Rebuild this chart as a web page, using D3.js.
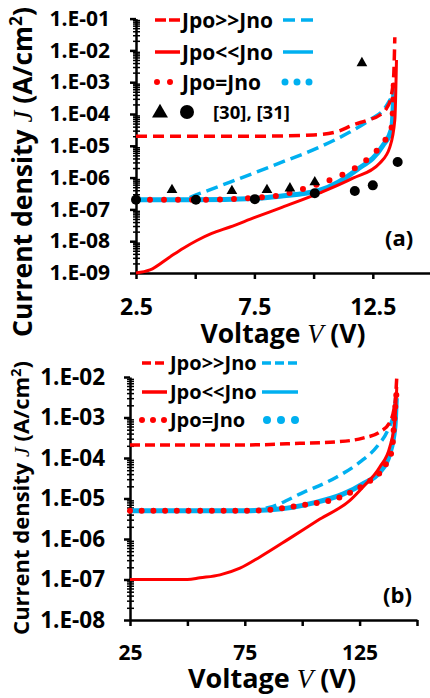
<!DOCTYPE html>
<html>
<head>
<meta charset="utf-8">
<script src="https://cdnjs.cloudflare.com/ajax/libs/d3/7.8.5/d3.min.js"></script>
<style>
  body { margin: 0; background: #fff; }
  svg { display: block; font-family: "Open Sans", Lato, sans-serif; font-weight: bold; }
  .axis path, .axis line { stroke: #000; stroke-width: 2.5; }
  .axis text { fill: #000; font-family: "Open Sans", sans-serif; font-weight: bold; }
</style>
</head>
<body>
<div id="chart"></div>
<script>
// ---- panel (a) data : voltage (V) and current density (A/cm2)
var redDashA_V  = [2.5, 5, 7.5, 10, 11, 11.66, 12.3, 12.8, 13.1, 13.25, 13.38, 13.43];
var redDashA_J  = [2e-5, 2e-5, 2e-5, 2.2e-5, 2.8e-5, 4.5e-5, 6.5e-5, 9.3e-5, 1.6e-4, 3e-4, 1.5e-3, 2.6e-2];
var blueDashA_V = [2.5, 4.36, 5.2, 6.47, 8.58, 10.26, 11.53, 12.37, 13.0, 13.25];
var blueDashA_J = [2e-7, 2e-7, 3.2e-7, 7.2e-7, 2.9e-6, 9.2e-6, 2.7e-5, 6.5e-5, 1.5e-4, 3e-4];
var redSolidA_V = [2.5, 3.09, 3.93, 4.5, 5.07, 5.7, 6.47, 7.52, 8.58, 10.26, 11.66, 12.8, 13.22, 13.43, 13.5];
var redSolidA_J = [1e-9, 1.25e-9, 3.2e-9, 6.0e-9, 1.05e-8, 1.75e-8, 2.8e-8, 5.6e-8, 1.1e-7, 3.3e-7, 9.6e-7, 2.9e-6, 9.1e-6, 6.5e-5, 5e-3];
var blueSolidA_V = [2.5, 5, 7.5, 8.58, 10.26, 11.8, 12.92, 13.3, 13.4];
var blueSolidA_J = [2e-7, 2e-7, 2.2e-7, 2.6e-7, 4.0e-7, 1.7e-6, 1.0e-5, 3.5e-5, 8e-4];
var redDotA_V   = [2.5, 5, 6.5, 7.5, 8.58, 9.55, 11.0, 11.8, 12.37, 12.92, 13.3, 13.39];
var redDotA_J   = [2e-7, 2e-7, 2.1e-7, 2.3e-7, 2.8e-7, 4.4e-7, 1.05e-6, 2.1e-6, 4.4e-6, 1.2e-5, 3.9e-5, 1.2e-3];
var ref30_V = [4.02, 6.55, 8.03, 9.0, 10.05, 12.04];
var ref30_J = [4.1e-7, 3.8e-7, 4.1e-7, 4.6e-7, 7.2e-7, 4.0e-3];
var ref31_V = [2.5, 5.03, 7.52, 10.05, 11.74, 12.5, 13.55];
var ref31_J = [2e-7, 2e-7, 2.1e-7, 3.2e-7, 3.8e-7, 5.7e-7, 3.1e-6];
var xTicksA = [2.5, 5, 7.5, 10, 12.5, 15];
var xLabelsA = [2.5, 7.5, 12.5];

// ---- panel (b) data
var redDashB_V  = [25, 75, 99, 115, 126.4, 133.8, 138.2, 140.4, 141.2];
var redDashB_J  = [2.1e-4, 2.1e-4, 2.3e-4, 2.5e-4, 3.1e-4, 4.4e-4, 7.7e-4, 2.3e-3, 1e-2];
var blueDashB_V = [25, 75, 82, 86, 100.3, 115.1, 125.1, 132.5, 137.3, 139.9, 140.8];
var blueDashB_J = [5e-6, 5e-6, 5.4e-6, 6.1e-6, 1.4e-5, 3.4e-5, 7.9e-5, 1.9e-4, 4.9e-4, 1.3e-3, 3e-3];
var redSolidB_V = [25, 50, 55.5, 64.2, 72.9, 81.6, 94.7, 107.7, 120.8, 126.4, 133.8, 138.2, 140.4, 141.2];
var redSolidB_J = [1e-7, 1e-7, 1.1e-7, 1.3e-7, 1.9e-7, 3.6e-7, 1.05e-6, 3.1e-6, 9e-6, 1.9e-5, 6.0e-5, 1.9e-4, 8.7e-4, 5.7e-3];
var blueSolidB_V = [25, 75, 90, 105, 118, 127, 133.8, 138, 140.4, 141];
var blueSolidB_J = [5e-6, 5e-6, 5.5e-6, 7.8e-6, 1.3e-5, 2.4e-5, 4.5e-5, 1.2e-4, 6e-4, 3e-3];
var redDotB_V   = [25, 75, 86, 100.3, 115.1, 123.8, 129.5, 133.8, 136.9, 139.1, 140.4, 141.2];
var redDotB_J   = [5e-6, 5e-6, 5.3e-6, 6.9e-6, 1.0e-5, 1.7e-5, 2.7e-5, 4.3e-5, 7.9e-5, 1.6e-4, 1.5e-3, 4.8e-3];
var xTicksB = [25, 50, 75, 100, 125, 150];
var xLabelsB = [25, 75, 125];

var legendNames = ["Jpo>>Jno", "Jpo<<Jno", "Jpo=Jno"];
var red = "#ff0000", blue = "#00b0f0";

var svg = d3.select("#chart").append("svg")
    .attr("width", 430)
    .attr("height", 698);

function pairs(vs, js) {
    return vs.map(function(v, i) { return [v, js[i]]; });
}

function logLabel(d) {
    var e = -Math.round(Math.log10(d));
    return "1.E-" + (e < 10 ? "0" + e : e);
}

function drawAxes(x, y, xTicks, xLabels, yFont, xFont, yPad, xPad) {
    var lo = y.domain()[0], hi = y.domain()[1];
    var majors = [], minors = [];
    for (var e = Math.round(Math.log10(lo)); e <= Math.round(Math.log10(hi)); e++) {
        majors.push(Math.pow(10, e));
        if (e < Math.round(Math.log10(hi)))
            for (var m = 2; m < 10; m++) minors.push(m * Math.pow(10, e));
    }
    var x0 = x.range()[0];

    // minor ticks across the axis
    var gm = svg.append("g").attr("class", "axis")
        .attr("transform", "translate(" + x0 + ",0)")
        .call(d3.axisLeft(y).tickValues(minors).tickSize(3).tickFormat(""));
    gm.select(".domain").remove();
    gm.selectAll(".tick line").attr("x1", 4).style("stroke-width", 1.5);

    svg.append("g").attr("class", "axis")
        .attr("transform", "translate(" + x0 + ",0)")
        .call(d3.axisLeft(y).tickValues(majors).tickSize(6).tickSizeOuter(0)
            .tickPadding(yPad).tickFormat(logLabel))
        .selectAll("text").style("font-size", yFont + "px");

    // x axis
    svg.append("g").attr("class", "axis")
        .attr("transform", "translate(0," + y.range()[0] + ")")
        .call(d3.axisBottom(x).tickValues(xTicks).tickSize(6).tickSizeOuter(0)
            .tickPadding(xPad)
            .tickFormat(function(d) { return xLabels.indexOf(d) >= 0 ? d : ""; }))
        .selectAll("text").style("font-size", xFont + "px");
}

function drawLine(x, y, data, color, width, dash, cap) {
    var line = d3.line()
        .x(function(d) { return x(d[0]); })
        .y(function(d) { return y(d[1]); })
        .curve(d3.curveMonotoneX);
    svg.append("path")
        .datum(data)
        .attr("fill", "none")
        .attr("stroke", color)
        .attr("stroke-width", width)
        .attr("stroke-dasharray", dash)
        .attr("stroke-linecap", cap || "butt")
        .attr("d", line);
}

function titles(xMid, xBase, yMid, yBase, font, tFont) {
    var t = svg.append("text")
        .attr("x", xMid).attr("y", xBase)
        .attr("text-anchor", "middle")
        .style("font-size", font + "px");
    t.append("tspan").text("Voltage ");
    t.append("tspan").text("V").style("font-family", "'Liberation Serif', serif")
        .style("font-style", "italic").style("font-weight", "normal");
    t.append("tspan").text(" (V)");

    var yt = svg.append("text")
        .attr("transform", "translate(" + yBase + "," + yMid + ") rotate(-90)")
        .attr("text-anchor", "middle")
        .style("font-size", tFont + "px");
    yt.append("tspan").text("Current density ");
    yt.append("tspan").text("J").style("font-family", "'Liberation Serif', serif")
        .style("font-style", "italic").style("font-weight", "normal");
    yt.append("tspan").text(" (A/cm");
    yt.append("tspan").text("2").attr("dy", -tFont * 0.38).style("font-size", (tFont * 0.65) + "px");
    yt.append("tspan").text(")").attr("dy", tFont * 0.38);
}

// ================= panel (a) =================
var xA = d3.scaleLinear().domain([2.5, 15]).range([136, 432]);
var yA = d3.scaleLog().domain([1e-9, 1e-1]).range([273, 18.6]);

drawAxes(xA, yA, xTicksA, xLabelsA, 21, 23, 20, 20);

drawLine(xA, yA, pairs(blueSolidA_V, blueSolidA_J), blue, 5, null);
drawLine(xA, yA, pairs(blueDashA_V, blueDashA_J), blue, 3.5, "12,6");
drawLine(xA, yA, pairs(redDashA_V, redDashA_J), red, 3.5, "11,6");
drawLine(xA, yA, pairs(redSolidA_V, redSolidA_J), red, 3, null);
drawLine(xA, yA, pairs(redDotA_V, redDotA_J), red, 6, "0,14", "round");

// literature points [30] triangles and [31] circles
svg.append("g").selectAll("path")
    .data(pairs(ref30_V, ref30_J))
    .enter().append("path")
    .attr("d", d3.symbol().type(d3.symbolTriangle).size(50))
    .attr("transform", function(d) { return "translate(" + xA(d[0]) + "," + yA(d[1]) + ")"; })
    .attr("fill", "#000");
svg.append("g").selectAll("circle")
    .data(pairs(ref31_V, ref31_J))
    .enter().append("circle")
    .attr("cx", function(d) { return xA(d[0]); })
    .attr("cy", function(d) { return yA(d[1]); })
    .attr("r", 5)
    .attr("fill", "#000");

// legend (a)
var legA = [20, 52, 82];
legA.forEach(function(ly, i) {
    var dash = i === 0 ? ["11,3", "12,6"] : i === 1 ? [null, null] : ["0,13", "0,12"];
    var w = i === 2 ? 6 : 3.5;
    svg.append("line").attr("x1", i === 2 ? 157 : 155).attr("x2", 180).attr("y1", ly).attr("y2", ly)
        .attr("stroke", red).attr("stroke-width", w).attr("stroke-dasharray", dash[0])
        .attr("stroke-linecap", i === 2 ? "round" : "butt");
    svg.append("line").attr("x1", i === 2 ? 285 : 283).attr("x2", i === 2 ? 310 : 313).attr("y1", ly).attr("y2", ly)
        .attr("stroke", blue).attr("stroke-width", i === 2 ? 7 : 3.5).attr("stroke-dasharray", dash[1])
        .attr("stroke-linecap", i === 2 ? "round" : "butt");
    svg.append("text").attr("x", 182).attr("y", ly + 7.5).style("font-size", "21px").text(legendNames[i]);
});
svg.append("path").attr("d", d3.symbol().type(d3.symbolTriangle).size(110))
    .attr("transform", "translate(160,113)").attr("fill", "#000");
svg.append("circle").attr("cx", 187).attr("cy", 112).attr("r", 7).attr("fill", "#000");
svg.append("text").attr("x", 213).attr("y", 119).style("font-size", "18.5px").text("[30], [31]");
svg.append("text").attr("x", 385).attr("y", 246).style("font-size", "22px").text("(a)");

titles(283, 343, 172, 32, 26.5, 26.5);

// ================= panel (b) =================
var xB = d3.scaleLinear().domain([25, 150]).range([130, 417]);
var yB = d3.scaleLog().domain([1e-8, 1e-2]).range([620, 377]);

drawAxes(xB, yB, xTicksB, xLabelsB, 22.5, 21, 19, 19);

drawLine(xB, yB, pairs(blueSolidB_V, blueSolidB_J), blue, 5, null);
drawLine(xB, yB, pairs(blueDashB_V, blueDashB_J), blue, 3.5, "11,6");
drawLine(xB, yB, pairs(redDashB_V, redDashB_J), red, 3.5, "10,5");
drawLine(xB, yB, pairs(redSolidB_V, redSolidB_J), red, 3, null);
drawLine(xB, yB, pairs(redDotB_V, redDotB_J), red, 6, "0,11.7", "round");

// legend (b)
var legB = [363, 392, 420];
legB.forEach(function(ly, i) {
    var dash = i === 0 ? ["9,4", "9,4"] : i === 1 ? [null, null] : ["0,11", "0,14"];
    svg.append("line").attr("x1", 142).attr("x2", i === 2 ? 165 : 167).attr("y1", ly).attr("y2", ly)
        .attr("stroke", red).attr("stroke-width", i === 2 ? 6 : 3.5).attr("stroke-dasharray", dash[0])
        .attr("stroke-linecap", i === 2 ? "round" : "butt");
    svg.append("line").attr("x1", i === 2 ? 267 : 262).attr("x2", i === 2 ? 296 : 298).attr("y1", ly).attr("y2", ly)
        .attr("stroke", blue).attr("stroke-width", i === 2 ? 8 : 3.5).attr("stroke-dasharray", dash[1])
        .attr("stroke-linecap", i === 2 ? "round" : "butt");
    svg.append("text").attr("x", 170).attr("y", ly + 7).style("font-size", "20px").text(legendNames[i]);
});
svg.append("text").attr("x", 383).attr("y", 603).style("font-size", "22px").text("(b)");

titles(272, 688, 498, 29, 27, 22);
</script>
</body>
</html>
